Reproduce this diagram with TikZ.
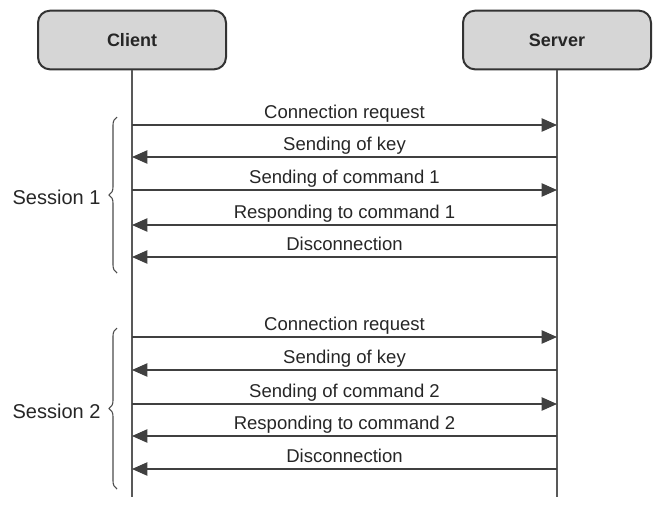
\documentclass[tikz,border=0pt]{standalone}
\usepackage{fontspec}
\setmainfont{Liberation Sans}
\usetikzlibrary{positioning,arrows.meta,decorations.pathreplacing}

\begin{document}
\begin{tikzpicture}[x=0.75pt,y=-0.75pt,
    actor/.style={draw=black!80,line width=1.5pt,fill=black!16,rounded corners=9pt,
        minimum width=141pt,minimum height=44pt,text=black!85,
        font=\fontsize{13.5}{16}\selectfont\bfseries},
    life/.style={draw=black!65,line width=0.9pt},
    msg/.style={draw=black!75,line width=0.9pt,-{Triangle[length=11.5pt,width=10pt]}},
    lbl/.style={font=\fontsize{13.9}{16}\selectfont,text=black!85,inner sep=2pt,text depth=0.22em},
    sess/.style={decorate,decoration={brace,amplitude=6pt},draw=black!70,line width=0.8pt},
    sesslbl/.style={font=\fontsize{15}{18}\selectfont,text=black!85,inner sep=0pt,yshift=-2pt}
]
\useasboundingbox (0,0) rectangle (657,504);

\node[actor] (client) at (132,40) {Client};
\node[actor] (server) at (557,40) {Server};

\coordinate (clientend) at (132,497);
\coordinate (serverend) at (557,497);
\draw[life] (client.south) -- (clientend);
\draw[life] (server.south) -- (serverend);

\foreach \n/\y in {1/125, 2/157, 3/190, 4/225, 5/257, 6/337, 7/370, 8/404, 9/436, 10/469} {
    \coordinate (c\n) at (132,\y);
    \coordinate (s\n) at (557,\y);
}

% session 1
\draw[msg] (c1) -- node[lbl,above] (m1) {Connection request} (s1);
\draw[msg] (s2) -- node[lbl,above] (m2) {Sending of key} (c2);
\draw[msg] (c3) -- node[lbl,above] (m3) {Sending of command 1} (s3);
\draw[msg] (s4) -- node[lbl,above] (m4) {Responding to command 1} (c4);
\draw[msg] (s5) -- node[lbl,above] (m5) {Disconnection} (c5);

% session 2
\draw[msg] (c6) -- node[lbl,above] (m6) {Connection request} (s6);
\draw[msg] (s7) -- node[lbl,above] (m7) {Sending of key} (c7);
\draw[msg] (c8) -- node[lbl,above] (m8) {Sending of command 2} (s8);
\draw[msg] (s9) -- node[lbl,above] (m9) {Responding to command 2} (c9);
\draw[msg] (s10) -- node[lbl,above] (m10) {Disconnection} (c10);

\coordinate (b1top) at (117,117);
\coordinate (b1bot) at (117,273);
\coordinate (b2top) at (117,328);
\coordinate (b2bot) at (117,489);
\draw[sess] (b1bot) -- node[sesslbl,left=12pt] (sess1) {Session 1} (b1top);
\draw[sess] (b2bot) -- node[sesslbl,left=12pt] (sess2) {Session 2} (b2top);

\end{tikzpicture}
\end{document}
